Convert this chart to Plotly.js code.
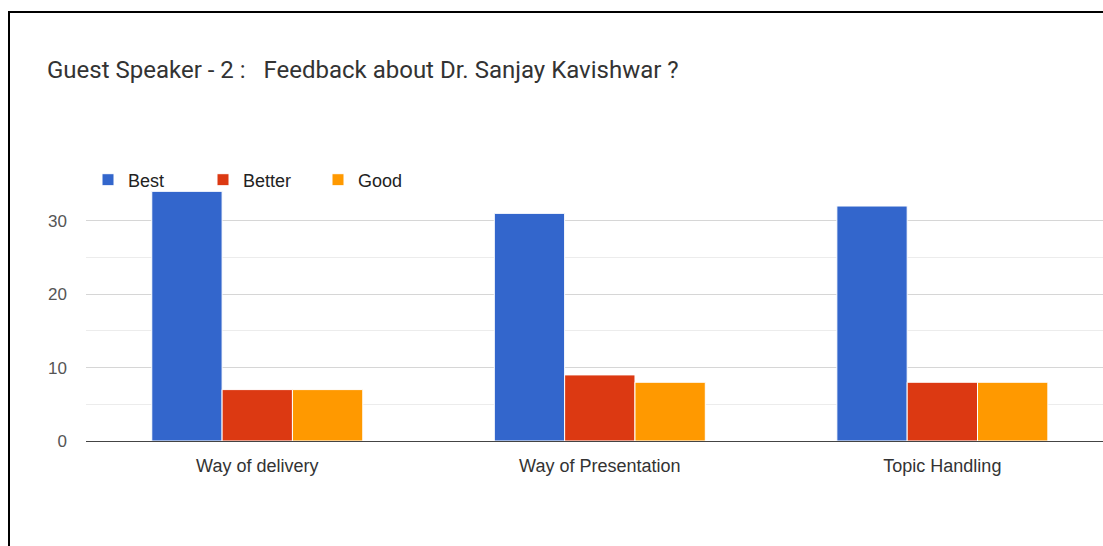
<!DOCTYPE html>
<html>
<head>
<meta charset="utf-8">
<script src="https://cdn.plot.ly/plotly-3.0.1.min.js"></script>
<style>
  html, body { margin: 0; padding: 0; background: #fff; overflow: hidden; }
  #chart { width: 1103px; height: 546px; }
  #frame { position: absolute; left: 8px; top: 11px; width: 2000px; height: 2000px;
           border-top: 2px solid #000; border-left: 2px solid #000; pointer-events: none; z-index: 10; }
</style>
</head>
<body>
<div id="chart"></div>
<div id="frame"></div>
<script>
const categories = ["Way of delivery", "Way of Presentation", "Topic Handling"];
const seriesNames = ["Best", "Better", "Good"];
const best = [34, 31, 32];
const better = [7, 9, 8];
const good = [7, 8, 8];
const colors = ["#3366CC", "#DC3912", "#FF9900"];
const values = [best, better, good];

const traces = values.map((v, i) => ({
  type: "bar",
  name: seriesNames[i],
  x: categories,
  y: v,
  marker: { color: colors[i], line: { color: "#ffffff", width: 1 } },
  hoverinfo: "x+y+name"
}));

const layout = {
  width: 1103,
  height: 546,
  margin: { l: 86, r: 0, t: 184, b: 105, autoexpand: false },
  paper_bgcolor: "rgba(0,0,0,0)",
  plot_bgcolor: "#ffffff",
  font: { family: "Arial, 'Liberation Sans', sans-serif", color: "#444" },
  title: {
    text: "Guest Speaker - 2 :   Feedback about Dr. Sanjay Kavishwar ?",
    x: 47 / 1103, xanchor: "left", xref: "container",
    y: 1 - 70 / 546, yanchor: "middle", yref: "container",
    font: { size: 24, color: "#333", family: "Roboto, Arial, sans-serif" }
  },
  barmode: "group",
  bargap: 0.384,
  bargroupgap: 0,
  showlegend: true,
  legend: {
    orientation: "h",
    x: 88 / 1103, xanchor: "left", xref: "container",
    y: 1 - 180 / 546, yanchor: "middle", yref: "container",
    font: { size: 18, color: "#222" },
    bgcolor: "rgba(255,255,255,0)",
    traceorder: "normal",
    itemwidth: 30,
    entrywidth: 70,
    entrywidthmode: "pixels"
  },
  xaxis: {
    type: "category",
    range: [-0.5, 2.469],
    showgrid: false,
    showline: false,
    ticks: "",
    ticklabelstandoff: 12,
    tickfont: { size: 18, color: "#333" },
    fixedrange: true
  },
  yaxis: {
    range: [0, 35],
    dtick: 10,
    tick0: 0,
    showgrid: true,
    gridcolor: "#d6d6d6",
    gridwidth: 1,
    zeroline: true,
    zerolinecolor: "#444",
    zerolinewidth: 1,
    minor: { dtick: 5, tick0: 0, showgrid: true, gridcolor: "#ececec", gridwidth: 1 },
    tickfont: { size: 17, color: "#555" },
    ticklabelstandoff: 18,
    fixedrange: true
  }
};

Plotly.newPlot("chart", traces, layout, { displayModeBar: false, staticPlot: true });
</script>
</body>
</html>
